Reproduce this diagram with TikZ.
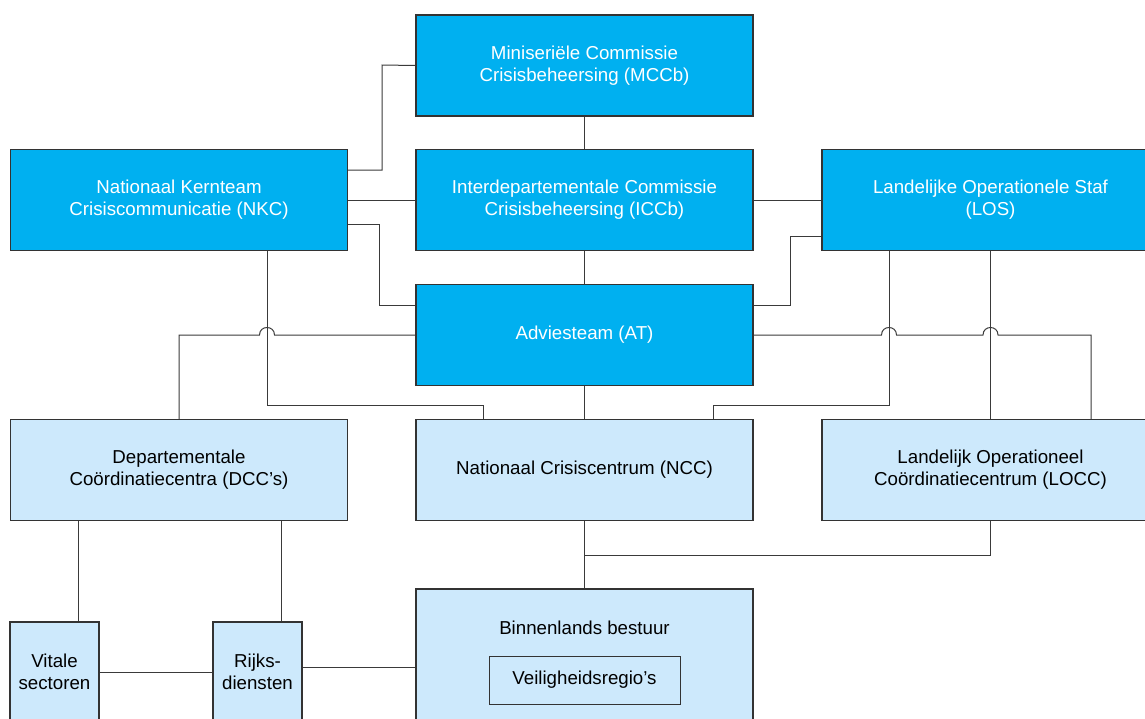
\documentclass[tikz,border=0pt]{standalone}
\usepackage{fontspec}
\setmainfont{Liberation Sans}
\definecolor{darkbox}{HTML}{00B0F0}
\definecolor{lightbox}{HTML}{CDE9FC}
\definecolor{boxline}{HTML}{333333}
\definecolor{linegray}{HTML}{3A3A3A}
\begin{document}
\begin{tikzpicture}[x=1pt,y=-1pt,
  box/.style={draw=boxline, line width=1.3pt, minimum width=337pt, minimum height=101pt, inner sep=0pt, align=center, font=\fontsize{18.7}{22.3}\selectfont},
  dark/.style={box, fill=darkbox, text=white},
  light/.style={box, fill=lightbox, text=black},
  small/.style={box, fill=lightbox, text=black, minimum width=89pt, minimum height=100pt},
  conn/.style={draw=linegray, line width=1pt}]
\useasboundingbox (0,0) rectangle (1145,718);
\clip (0,0) rectangle (1145,718);
% nodes
\node[dark] (mccb) at (584.5,65.5) {Miniseriële Commissie\\Crisisbeheersing (MCCb)};
\node[dark] (nkc) at (179,200) {Nationaal Kernteam\\Crisiscommunicatie (NKC)};
\node[dark] (iccb) at (584.5,200) {Interdepartementale Commissie\\Crisisbeheersing (ICCb)};
\node[dark] (los) at (990.5,200) {Landelijke Operationele Staf\\(LOS)};
\node[dark] (at) at (584.5,335) {Adviesteam (AT)};
\node[light] (dcc) at (179,470) {Departementale\\Coördinatiecentra (DCC’s)};
\node[light] (ncc) at (584.5,470) {Nationaal Crisiscentrum (NCC)};
\node[light] (locc) at (990.5,470) {Landelijk Operationeel\\Coördinatiecentrum (LOCC)};
\node[small] (vit) at (54.5,672) {Vitale\\sectoren};
\node[small] (rijks) at (257.5,672) {Rijks-\\diensten};
\node[box, fill=lightbox, minimum height=160pt] (bb) at (584.5,669) {};
\node[font=\fontsize{18.7}{22.3}\selectfont, inner sep=0pt] (bbt) at (584.5,628) {Binnenlands bestuur};
\node[draw=boxline, line width=1pt, fill=lightbox, minimum width=191pt, minimum height=48pt, inner sep=0pt, font=\fontsize{18.7}{22.3}\selectfont] (vr) at (584.5,680) {Veiligheidsregio’s};
% connectors
\draw[conn] (nkc.east |- 0,170) -- (382,170) -- (382,65) -- (mccb.west);
\draw[conn] (nkc.east) -- (iccb.west);
\draw[conn] (nkc.east |- 0,224) -- (379,224) -- (379,305) -- (at.west |- 0,305);
\draw[conn] (mccb.south) -- (iccb.north);
\draw[conn] (iccb.south) -- (at.north);
\draw[conn] (iccb.east) -- (los.west);
\draw[conn] (los.west |- 0,236) -- (790,236) -- (790,305) -- (at.east |- 0,305);
\draw[conn] (at.west) -- (274.5,335) .. controls (274.5,325) and (259.5,325) .. (259.5,335) -- (179,335) -- (dcc.north);
\draw[conn] (267,0 |- nkc.south) -- (267,405) -- (483,405) -- (483,0 |- ncc.north);
\draw[conn] (at.south) -- (ncc.north);
\draw[conn] (889,0 |- los.south) -- (889,405) -- (713,405) -- (713,0 |- ncc.north);
\draw[conn] (los.south) -- (locc.north);
\draw[conn] (at.east) -- (881.5,335) .. controls (881.5,325) and (896.5,325) .. (896.5,335) -- (983,335) .. controls (983,325) and (998,325) .. (998,335) -- (1091,335) -- (1091,0 |- locc.north);
\draw[conn] (ncc.south) -- (bb.north);
\coordinate (j) at (ncc.south |- 0,555);
\draw[conn] (locc.south) -- (990.5,555) -- (j);
\draw[conn] (78,0 |- dcc.south) -- (78,0 |- vit.north);
\draw[conn] (281,0 |- dcc.south) -- (281,0 |- rijks.north);
\draw[conn] (vit.east |- 0,672) -- (rijks.west |- 0,672);
\draw[conn] (rijks.east |- 0,667) -- (bb.west |- 0,667);
\end{tikzpicture}
\end{document}
